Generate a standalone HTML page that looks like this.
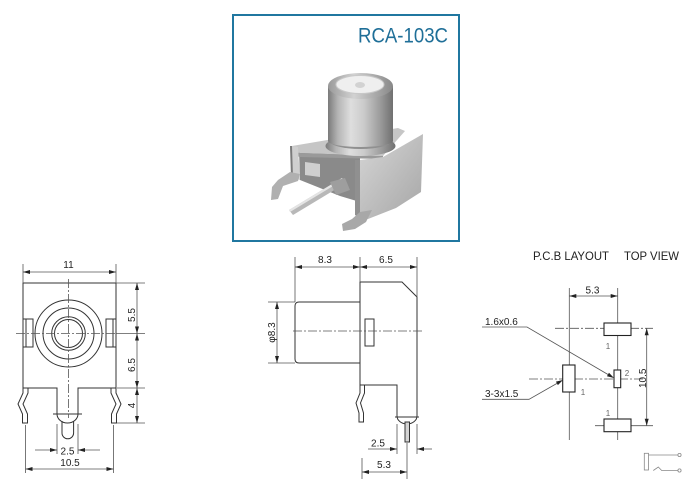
<!DOCTYPE html>
<html><head><meta charset="utf-8"><style>
html,body{margin:0;padding:0;background:#fff;}
svg{display:block;}
text{font-family:"Liberation Sans",Arial,sans-serif;}
</style></head><body>
<svg width="700" height="497" viewBox="0 0 700 497" xmlns="http://www.w3.org/2000/svg">
<defs>
<linearGradient id="cyl" x1="0" x2="1" y1="0" y2="0">
 <stop offset="0" stop-color="#7a7a7a"/>
 <stop offset="0.15" stop-color="#b4b4b4"/>
 <stop offset="0.35" stop-color="#dedede"/>
 <stop offset="0.55" stop-color="#cbcbcb"/>
 <stop offset="0.8" stop-color="#9c9c9c"/>
 <stop offset="1" stop-color="#707070"/>
</linearGradient>
<linearGradient id="panel" x1="0" x2="1" y1="0" y2="1">
 <stop offset="0" stop-color="#d6d6d6"/>
 <stop offset="1" stop-color="#a6a6a6"/>
</linearGradient>
<linearGradient id="rim" x1="0" x2="1" y1="0" y2="0">
 <stop offset="0" stop-color="#999"/>
 <stop offset="0.4" stop-color="#d2d2d2"/>
 <stop offset="1" stop-color="#888"/>
</linearGradient>
</defs>

<!-- Photo box -->
<rect x="233" y="15" width="226" height="226" fill="#fff" stroke="#2077a0" stroke-width="2"/>
<text x="358" y="42.5" font-size="21" fill="#1f6f98" textLength="90" lengthAdjust="spacingAndGlyphs">RCA-103C</text>

<!-- Connector photo approximation -->
<g stroke="none">
 <!-- inside dark area -->
 <polygon points="299,150 360,156 360,202 340,196 300,180" fill="#8a8a8a"/>
 <polygon points="305,162 320,164 320,177 305,175" fill="#cfcfcf"/>
 <!-- top plate -->
 <polygon points="292,146 398,128 405,131 383,156 300,153 292,151" fill="#c6c6c6"/>
 <polygon points="292,151 300,153 383,156 383,159 300,157 292,155" fill="#9a9a9a"/>
 <!-- left wall -->
 <polygon points="290,146 298,147 300,180 292,178" fill="#cfcfcf"/>
 <polygon points="290,146 292,146 293,178 291,178" fill="#7a7a7a"/>
 <!-- left leg -->
 <polygon points="290,172 300,174 298,181 283,186 278,199 271,200 272,187 278,180" fill="#b0b0b0"/>
 <!-- pin -->
 <polygon points="289,210 342,178 346,183 293,215" fill="#b8b8b8"/>
 <polygon points="289,210 342,178 343,180 290,212" fill="#e4e4e4"/>
 <polygon points="330,182 345,178 350,190 336,195" fill="#9e9e9e"/>
 <!-- right panel -->
 <polygon points="360,160 383,157 423,134 421,192 396,208 368,219 360,218" fill="url(#panel)"/>
 <polygon points="355,160 360,160 360,218 355,215" fill="#909090"/>
 <!-- right leg -->
 <polygon points="360,212 372,210 366,222 355,229 343,231 342,224 352,219" fill="#a8a8a8"/>
 <!-- collar -->
 <ellipse cx="360.5" cy="146" rx="35" ry="10" fill="url(#cyl)"/>
 <ellipse cx="360.5" cy="141" rx="31" ry="8" fill="#909090"/>
 <!-- cylinder -->
 <rect x="328" y="86" width="65" height="55" fill="url(#cyl)"/>
 <ellipse cx="360.5" cy="141" rx="32.5" ry="6" fill="url(#cyl)"/>
 <ellipse cx="360.5" cy="86" rx="32.5" ry="13" fill="url(#rim)"/>
 <ellipse cx="360" cy="84.5" rx="24" ry="9" fill="#efefef" stroke="#c8c8c8" stroke-width="1"/>
 <ellipse cx="360" cy="85" rx="5" ry="3" fill="#d2d2d2"/>
</g>

<!-- ============ LEFT DRAWING ============ -->
<g fill="none" stroke="#333" stroke-width="1">
 <path d="M57,388 H23 V283 H116 V388 H78 V414 A10.5,9 0 0 1 57,414 Z"/>
 <line x1="53" y1="414" x2="82" y2="414"/>
 <path d="M62,421 V433 A5.8,5.8 0 0 0 73.6,433 V421"/>
 <circle cx="68.5" cy="333.5" r="33.5"/>
 <circle cx="68.5" cy="333.5" r="25.5"/>
 <circle cx="68.5" cy="333.5" r="16.8"/>
 <circle cx="68.5" cy="333.5" r="14"/>
 <rect x="23" y="319" width="10" height="28"/>
 <line x1="26" y1="319" x2="26" y2="347"/>
 <rect x="106" y="319" width="10" height="28"/>
 <line x1="113" y1="319" x2="113" y2="347"/>
 <path d="M23,388 V393 L18,404 L22.5,414 V423 H27.5 V414 L23,404 L28,393 V388"/>
 <path d="M116,388 V393 L121,404 L116.5,414 V423 H111.5 V414 L116,404 L111,393 V388"/>
</g>
<g stroke="#555" stroke-width="0.8" fill="none">
 <line x1="16" y1="333.5" x2="116" y2="333.5" stroke-dasharray="9 2 2 2"/>
 <line x1="116" y1="333.5" x2="145" y2="333.5"/>
 <line x1="68.5" y1="279" x2="68.5" y2="418" stroke-dasharray="9 2 2 2"/>
 <line x1="23" y1="264" x2="23" y2="283"/>
 <line x1="116" y1="264" x2="116" y2="283"/>
 <line x1="23" y1="272" x2="116" y2="272"/>
 <line x1="116" y1="283" x2="145" y2="283"/>
 <line x1="117" y1="388" x2="145" y2="388"/>
 <line x1="117" y1="423" x2="145" y2="423"/>
 <line x1="137" y1="283" x2="137" y2="423"/>
 <line x1="57" y1="424" x2="57" y2="454"/>
 <line x1="78" y1="424" x2="78" y2="454"/>
 <line x1="35" y1="450" x2="57" y2="450"/>
 <line x1="78" y1="450" x2="100" y2="450"/>
 <line x1="25.5" y1="425" x2="25.5" y2="473"/>
 <line x1="113.5" y1="425" x2="113.5" y2="473"/>
 <line x1="25.5" y1="469" x2="113.5" y2="469"/>
</g>
<g fill="#222">
 <polygon points="23,272 30,270 30,274"/>
 <polygon points="116,272 109,270 109,274"/>
 <polygon points="137,283 135,290 139,290"/>
 <polygon points="137,333.5 135,326.5 139,326.5"/>
 <polygon points="137,333.5 135,340.5 139,340.5"/>
 <polygon points="137,388 135,381 139,381"/>
 <polygon points="137,388 135,395 139,395"/>
 <polygon points="137,423 135,416 139,416"/>
 <polygon points="57,450 50,448 50,452"/>
 <polygon points="78,450 85,448 85,452"/>
 <polygon points="25.5,469 32.5,467 32.5,471"/>
 <polygon points="113.5,469 106.5,467 106.5,471"/>
</g>
<g font-size="10" fill="#222">
 <text x="68.5" y="268" text-anchor="middle">11</text>
 <text x="67.5" y="454.5" text-anchor="middle">2.5</text>
 <text x="70" y="466" text-anchor="middle">10.5</text>
 <text transform="translate(135,315) rotate(-90)" text-anchor="middle">5.5</text>
 <text transform="translate(135,365) rotate(-90)" text-anchor="middle">6.5</text>
 <text transform="translate(135,405.5) rotate(-90)" text-anchor="middle">4</text>
</g>

<!-- ============ MIDDLE DRAWING ============ -->
<g fill="none" stroke="#333" stroke-width="1">
 <path d="M360,282 H402 L417,297 V416 A10,8 0 0 1 397,416 V385 H360 Z"/>
 <line x1="395" y1="417" x2="419" y2="417"/>
 <path d="M360,302 H299 Q295,302 295,306 V359 Q295,363 299,363 H360"/>
 <rect x="365" y="319" width="9" height="27"/>
 <path d="M360,385 V393 L356,403 L359,413 V422 H363.5 V413 L360.5,403 L364.5,393 V385"/>
 <rect x="405" y="422" width="4.5" height="20" fill="#d4d4d4"/>
</g>
<g stroke="#555" stroke-width="0.8" fill="none">
 <line x1="293" y1="331" x2="423" y2="331" stroke-dasharray="9 2 2 2"/>
 <line x1="295" y1="257" x2="295" y2="302"/>
 <line x1="360" y1="257" x2="360" y2="282"/>
 <line x1="417" y1="257" x2="417" y2="297"/>
 <line x1="295" y1="267" x2="417" y2="267"/>
 <line x1="268" y1="302" x2="295" y2="302"/>
 <line x1="268" y1="363" x2="295" y2="363"/>
 <line x1="277" y1="302" x2="277" y2="363"/>
 <line x1="397" y1="424" x2="397" y2="454"/>
 <line x1="417" y1="424" x2="417" y2="454"/>
 <line x1="368" y1="449" x2="397" y2="449"/>
 <line x1="417" y1="449" x2="432" y2="449"/>
 <line x1="362" y1="458" x2="362" y2="479"/>
 <line x1="407" y1="443" x2="407" y2="479"/>
 <line x1="362" y1="472" x2="407" y2="472"/>
</g>
<g fill="#222">
 <polygon points="295,267 302,265 302,269"/>
 <polygon points="360,267 353,265 353,269"/>
 <polygon points="360,267 367,265 367,269"/>
 <polygon points="417,267 410,265 410,269"/>
 <polygon points="277,302 275,309 279,309"/>
 <polygon points="277,363 275,356 279,356"/>
 <polygon points="397,449 390,447 390,451"/>
 <polygon points="417,449 424,447 424,451"/>
 <polygon points="362,472 369,470 369,474"/>
 <polygon points="407,472 400,470 400,474"/>
</g>
<g font-size="10" fill="#222">
 <text x="325" y="263" text-anchor="middle">8.3</text>
 <text x="386" y="263" text-anchor="middle">6.5</text>
 <text transform="translate(275,332.5) rotate(-90)" text-anchor="middle">φ8.3</text>
 <text x="378" y="446.5" text-anchor="middle">2.5</text>
 <text x="384" y="468" text-anchor="middle">5.3</text>
</g>

<!-- ============ RIGHT DRAWING ============ -->
<g font-size="11.5" fill="#222">
 <text x="533" y="260" textLength="76" lengthAdjust="spacingAndGlyphs">P.C.B LAYOUT</text>
 <text x="624" y="260" textLength="55" lengthAdjust="spacingAndGlyphs">TOP VIEW</text>
</g>
<g stroke="#555" stroke-width="0.8" fill="none">
 <line x1="569.3" y1="288" x2="569.3" y2="440"/>
 <line x1="617.7" y1="288" x2="617.7" y2="440"/>
 <line x1="569.3" y1="296" x2="617.7" y2="296"/>
 <line x1="555" y1="328.3" x2="653" y2="328.3" stroke-dasharray="9 2 2 2"/>
 <line x1="529" y1="379" x2="643" y2="379" stroke-dasharray="9 2 2 2"/>
 <line x1="595" y1="425.7" x2="653" y2="425.7"/>
 <line x1="646.7" y1="328.3" x2="646.7" y2="425.7"/>
 <polyline points="482,327 527,327 608,374.5"/>
 <polyline points="482,399.3 529,399.3 557,383.4"/>
</g>
<g fill="#fff" stroke="#222" stroke-width="1.1">
 <rect x="604" y="323" width="27" height="12.5"/>
 <rect x="614" y="370" width="6.7" height="17.7"/>
 <rect x="562.7" y="365" width="12.3" height="27"/>
 <rect x="604" y="419" width="27" height="12.7"/>
</g>
<g fill="#222">
 <polygon points="569.3,296 576.3,294 576.3,298"/>
 <polygon points="617.7,296 610.7,294 610.7,298"/>
 <polygon points="646.7,328.3 644.7,335.3 648.7,335.3"/>
 <polygon points="646.7,425.7 644.7,418.7 648.7,418.7"/>
 <polygon points="614,378 606.95,376.19 608.97,372.73"/>
 <polygon points="563,380 557.87,385.17 555.91,381.67"/>
</g>
<g font-size="10" fill="#222">
 <text x="485" y="325">1.6x0.6</text>
 <text x="485" y="397">3-3x1.5</text>
 <text x="592.5" y="293.5" text-anchor="middle">5.3</text>
 <text transform="translate(646,378.3) rotate(-90)" text-anchor="middle">10.5</text>
</g>
<g font-size="8" fill="#666">
 <text x="608" y="349" text-anchor="middle">1</text>
 <text x="627" y="376" text-anchor="middle">2</text>
 <text x="583" y="395" text-anchor="middle">1</text>
 <text x="608" y="416" text-anchor="middle">1</text>
</g>
<g fill="none" stroke="#888" stroke-width="0.8">
 <rect x="644.3" y="453.3" width="4.2" height="16.7"/>
 <line x1="648.5" y1="455" x2="677.8" y2="455"/>
 <circle cx="679.5" cy="455" r="1.6"/>
 <polyline points="653.3,470.5 658.3,467 661.7,470.5 677.8,470.5"/>
 <circle cx="679.5" cy="470.5" r="1.6"/>
</g>
</svg>
</body></html>
